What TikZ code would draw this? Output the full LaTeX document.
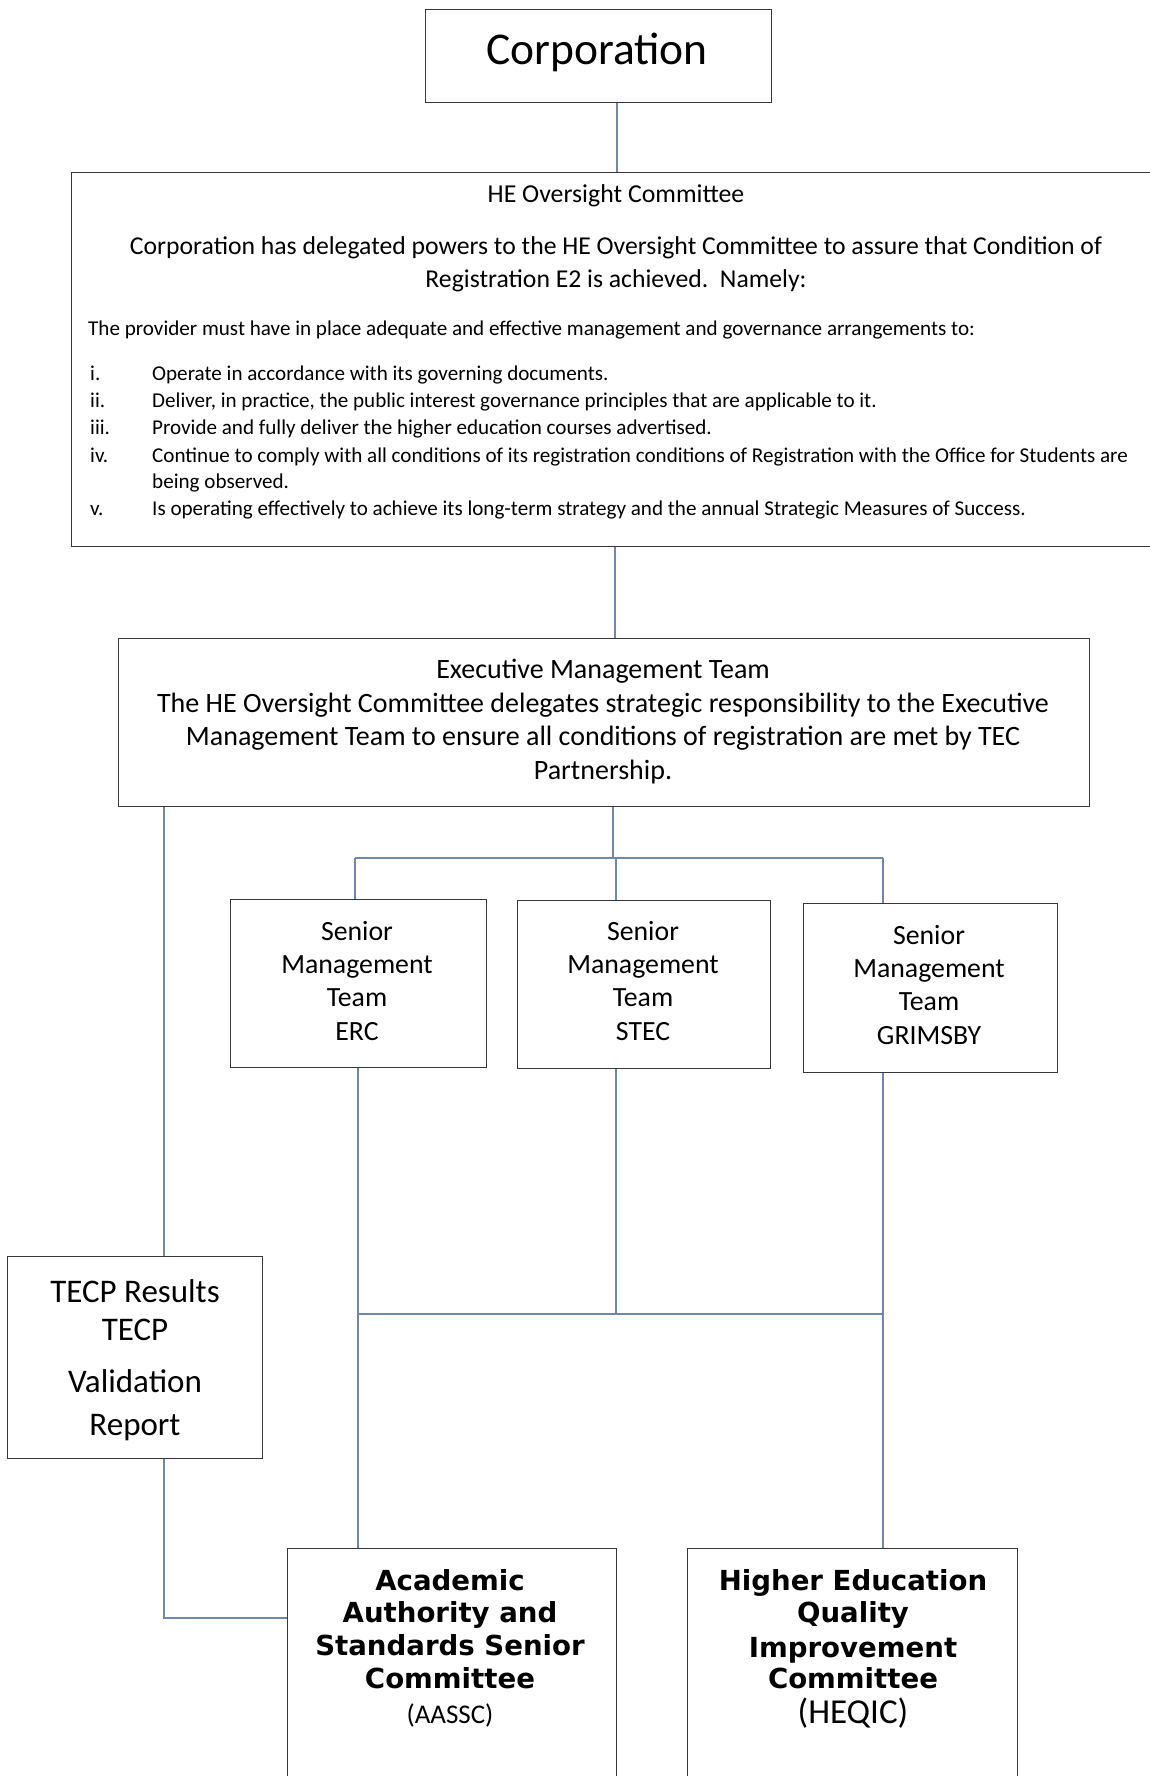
\documentclass[tikz,border=0pt]{standalone}
\usepackage{fontspec}
\setmainfont{Carlito}
\newfontfamily\vfont{DejaVu Sans}
\definecolor{boxgray}{RGB}{55,55,55}
\definecolor{linkblue}{RGB}{110,135,170}
\begin{document}
\begin{tikzpicture}[x=1pt,y=-1pt,
  box/.style={draw=boxgray,line width=1.4pt,anchor=north west,inner sep=0pt},
  conn/.style={draw=linkblue,line width=1.1pt},
  txt/.style={anchor=base,inner sep=0pt,text=black},
  txtl/.style={anchor=base west,inner sep=0pt,text=black},
  fcorp/.style={font=\fontsize{45.5}{54}\selectfont},
  fhead/.style={font=\fontsize{25.8}{30}\selectfont},
  fpara/.style={font=\fontsize{25.7}{31}\selectfont},
  flist/.style={font=\fontsize{21.1}{25}\selectfont},
  femt/.style={font=\fontsize{28}{33}\selectfont},
  fsmt/.style={font=\fontsize{27.8}{33}\selectfont},
  ftecp/.style={font=\fontsize{33}{40}\selectfont},
  fbold/.style={font=\vfont\bfseries\fontsize{27.6}{33}\selectfont},
]
\useasboundingbox[fill=white] (0,0) rectangle (1150,1776);

% boxes
\node[box,minimum width=346pt,minimum height=93pt] (corp) at (425,9) {};
\node[box,minimum width=1100pt,minimum height=374pt] (he) at (71,172) {};
\node[box,minimum width=971pt,minimum height=168pt] (emt) at (118,638) {};
\node[box,minimum width=256pt,minimum height=168pt] (erc) at (230,899) {};
\node[box,minimum width=253pt,minimum height=168pt] (stec) at (517,900) {};
\node[box,minimum width=254pt,minimum height=169pt] (grim) at (803,903) {};
\node[box,minimum width=255pt,minimum height=202pt] (tecp) at (7,1256) {};
\node[box,minimum width=329pt,minimum height=260pt] (aassc) at (287,1548) {};
\node[box,minimum width=330pt,minimum height=260pt] (heqic) at (687,1548) {};

% helper coordinates
\coordinate (xa) at (617,0);
\coordinate (xb) at (615,0);
\coordinate (xc) at (164,0);
\coordinate (j1) at (613,858);
\coordinate (jl) at (355,858);
\coordinate (jr) at (883,858);
\coordinate (xs) at (616,0);
\coordinate (k1) at (616,1314);
\coordinate (kl) at (358,1314);
\coordinate (kr) at (883,1314);
\coordinate (tl) at (164,1618);

% connectors
\draw[conn] (corp.south -| xa) -- (he.north -| xa);
\draw[conn] (he.south -| xb) -- (emt.north -| xb);
\draw[conn] (emt.south -| j1) -- (j1);
\draw[conn] (jl) -- (jr);
\draw[conn] (jl) -- (erc.north -| jl);
\draw[conn] (j1 -| xs) -- (stec.north -| xs);
\draw[conn] (jr) -- (grim.north -| jr);
\draw[conn] (erc.south -| kl) -- (aassc.north -| kl);
\draw[conn] (stec.south -| k1) -- (k1);
\draw[conn] (kl) -- (kr);
\draw[conn] (grim.south -| kr) -- (heqic.north -| kr);
\draw[conn] (emt.south -| xc) -- (tecp.north -| xc);
\draw[conn] (tecp.south -| xc) -- (tl) -- (aassc.west |- tl);

% texts
\node[txt,fcorp] (tcorp) at (597,65) {Corporation};

\node[txt,fhead] (th) at (616,203) {HE Oversight Committee};
\node[txt,fpara] (tp1) at (616,255) {Corporation has delegated powers to the HE Oversight Committee to assure that Condition of};
\node[txt,fpara] (tp2) at (616,288) {Registration E2 is achieved.\ \ Namely:};
\node[txtl,flist] (tprov) at (88,335) {The provider must have in place adequate and effective management and governance arrangements to:};
\node[txtl,flist] (n1) at (90,380) {i.};
\node[txtl,flist] (n2) at (90,407) {ii.};
\node[txtl,flist] (n3) at (90,434) {iii.};
\node[txtl,flist] (n4) at (90,462) {iv.};
\node[txtl,flist] (n5) at (90,515) {v.};
\node[txtl,flist] (l1) at (152,380) {Operate in accordance with its governing documents.};
\node[txtl,flist] (l2) at (152,407) {Deliver, in practice, the public interest governance principles that are applicable to it.};
\node[txtl,flist] (l3) at (152,434) {Provide and fully deliver the higher education courses advertised.};
\node[txtl,flist] (l4) at (152,462) {Continue to comply with all conditions of its registration conditions of Registration with the Office for Students are};
\node[txtl,flist] (l4b) at (152,488) {being observed.};
\node[txtl,flist] (l5) at (152,515) {Is operating effectively to achieve its long-term strategy and the annual Strategic Measures of Success.};

\node[txt,femt] (e1) at (603,678) {Executive Management Team};
\node[txt,femt] (e2) at (603,712) {The HE Oversight Committee delegates strategic responsibility to the Executive};
\node[txt,femt] (e3) at (603,745) {Management Team to ensure all conditions of registration are met by TEC};
\node[txt,femt] (e4) at (603,779) {Partnership.};

\node[txt,fsmt] (s1a) at (357,940) {Senior};
\node[txt,fsmt] (s1b) at (357,973) {Management};
\node[txt,fsmt] (s1c) at (357,1006) {Team};
\node[txt,fsmt] (s1d) at (357,1040) {ERC};
\node[txt,fsmt] (s2a) at (643,940) {Senior};
\node[txt,fsmt] (s2b) at (643,973) {Management};
\node[txt,fsmt] (s2c) at (643,1006) {Team};
\node[txt,fsmt] (s2d) at (643,1040) {STEC};
\node[txt,fsmt] (s3a) at (929,944) {Senior};
\node[txt,fsmt] (s3b) at (929,977) {Management};
\node[txt,fsmt] (s3c) at (929,1010) {Team};
\node[txt,fsmt] (s3d) at (929,1044) {GRIMSBY};

\node[txt,ftecp] (t1) at (135,1302) {TECP Results};
\node[txt,ftecp] (t2) at (135,1340) {TECP};
\node[txt,ftecp] (t3) at (135,1392) {Validation};
\node[txt,ftecp] (t4) at (135,1435) {Report};

\node[txt,fbold] (a1) at (450,1590) {Academic};
\node[txt,fbold] (a2) at (450,1622) {Authority and};
\node[txt,fbold] (a3) at (450,1655) {Standards Senior};
\node[txt,fbold] (a4) at (450,1688) {Committee};
\node[txt,font=\fontsize{27}{32}\selectfont] (a5) at (450,1723) {(AASSC)};

\node[txt,fbold] (h1) at (853,1590) {Higher Education};
\node[txt,fbold] (h2) at (853,1622) {Quality};
\node[txt,fbold] (h3) at (853,1657) {Improvement};
\node[txt,fbold] (h4) at (853,1688) {Committee};
\node[txt,font=\fontsize{35}{40}\selectfont] (h5) at (853,1723) {(HEQIC)};
\end{tikzpicture}
\end{document}
